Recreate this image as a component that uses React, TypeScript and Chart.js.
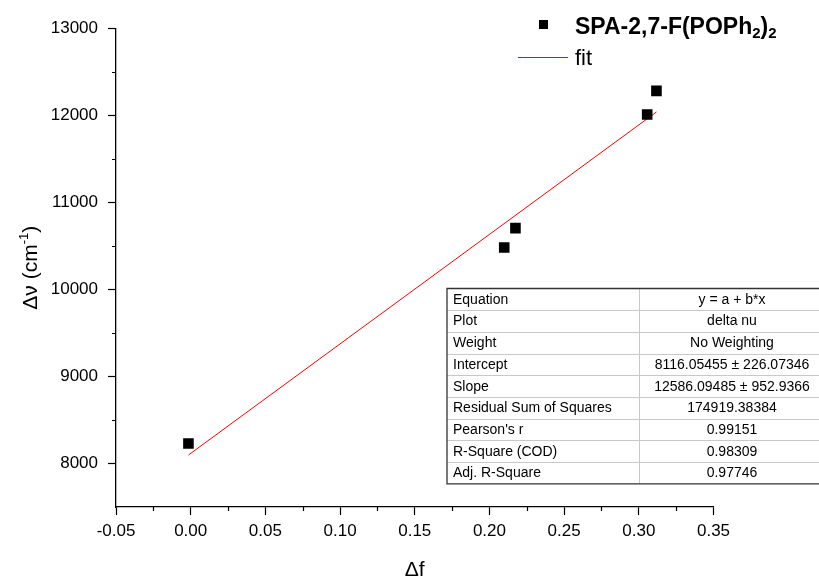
import React, { useEffect, useRef } from "react";
import { Chart, registerables } from "chart.js";

Chart.register(...registerables);

// Measured points: solvent polarity parameter Δf vs. Stokes shift Δν
const deltaF = [-0.0015, 0.2099, 0.2174, 0.3056, 0.3118];
const deltaNu = [8230, 10483, 10705, 12011, 12283];

// Linear fit y = a + b*x
const fitIntercept = 8116.05455;
const fitSlope = 12586.09485;

// Axis ranges and ticks
const xMin = -0.05;
const xMax = 0.35;
const xStep = 0.05;
const yMin = 7500;
const yMax = 13000;
const yStep = 500;

// Fit report table
const tableLabels = [
  "Equation",
  "Plot",
  "Weight",
  "Intercept",
  "Slope",
  "Residual Sum of Squares",
  "Pearson's r",
  "R-Square (COD)",
  "Adj. R-Square",
];
const tableValues = [
  "y = a + b*x",
  "delta nu",
  "No Weighting",
  "8116.05455 ± 226.07346",
  "12586.09485 ± 952.9366",
  "174919.38384",
  "0.99151",
  "0.98309",
  "0.97746",
];

const seriesName = "SPA-2,7-F(POPh₂)₂";
const fitName = "fit";

const FONT = "'Liberation Sans', Arial, sans-serif";

type Part = { text: string; size: number; dy: number; bold?: boolean };

function drawParts(ctx: CanvasRenderingContext2D, parts: Part[], x: number, y: number, align: "left" | "center") {
  let total = 0;
  for (const p of parts) {
    ctx.font = `${p.bold ? "bold " : ""}${p.size}px ${FONT}`;
    total += ctx.measureText(p.text).width;
  }
  let cx = align === "center" ? x - total / 2 : x;
  ctx.textAlign = "left";
  ctx.textBaseline = "alphabetic";
  for (const p of parts) {
    ctx.font = `${p.bold ? "bold " : ""}${p.size}px ${FONT}`;
    ctx.fillText(p.text, cx, y + p.dy);
    cx += ctx.measureText(p.text).width;
  }
}

const decorations = {
  id: "decorations",
  afterDraw(chart: any) {
    const ctx: CanvasRenderingContext2D = chart.ctx;
    const xs = chart.scales.x;
    const ys = chart.scales.y;
    const area = chart.chartArea;
    ctx.save();

    // minor ticks
    ctx.strokeStyle = "#000";
    ctx.lineWidth = 1.2;
    ctx.beginPath();
    for (let v = xMin + xStep / 2; v < xMax; v += xStep) {
      const px = Math.round(xs.getPixelForValue(v)) + 0.5;
      ctx.moveTo(px, area.bottom);
      ctx.lineTo(px, area.bottom + 4);
    }
    for (let v = yMin + yStep; v <= yMax; v += yStep) {
      if (v % 1000 === 0) continue;
      const py = Math.round(ys.getPixelForValue(v)) + 0.5;
      ctx.moveTo(area.left, py);
      ctx.lineTo(area.left - 4, py);
    }
    ctx.stroke();

    // axis titles
    ctx.fillStyle = "#000";
    drawParts(ctx, [{ text: "Δf", size: 21, dy: 0 }], (area.left + area.right) / 2, 576, "center");
    ctx.save();
    ctx.translate(37, (area.top + area.bottom) / 2);
    ctx.rotate(-Math.PI / 2);
    drawParts(
      ctx,
      [
        { text: "Δν (cm", size: 21, dy: 0 },
        { text: "-1", size: 13, dy: -9 },
        { text: ")", size: 21, dy: 0 },
      ],
      0,
      0,
      "center"
    );
    ctx.restore();

    // legend
    ctx.fillStyle = "#000";
    ctx.fillRect(539, 20, 9, 9);
    drawParts(
      ctx,
      [
        { text: "SPA-2,7-F(POPh", size: 23, dy: 0, bold: true },
        { text: "2", size: 15, dy: 4, bold: true },
        { text: ")", size: 23, dy: 0, bold: true },
        { text: "2", size: 15, dy: 4, bold: true },
      ],
      575,
      34,
      "left"
    );
    ctx.strokeStyle = "#ff0000";
    ctx.lineWidth = 1;
    ctx.beginPath();
    ctx.moveTo(518, 57.5);
    ctx.lineTo(568, 57.5);
    ctx.stroke();
    drawParts(ctx, [{ text: fitName, size: 22, dy: 0 }], 575, 65, "left");

    // fit report table
    const left = 447;
    const top = 288.5;
    const rowH = 21.7;
    const mid = 639.5;
    const right = 826;
    const bottom = top + rowH * tableLabels.length;
    ctx.fillStyle = "#fff";
    ctx.fillRect(left, top, right - left, bottom - top);
    ctx.strokeStyle = "#c8c8c8";
    ctx.lineWidth = 1;
    ctx.beginPath();
    for (let i = 1; i < tableLabels.length; i++) {
      const y = Math.round(top + i * rowH) + 0.5;
      ctx.moveTo(left, y);
      ctx.lineTo(right, y);
    }
    ctx.moveTo(mid, top);
    ctx.lineTo(mid, bottom);
    ctx.stroke();
    ctx.strokeStyle = "#333";
    ctx.lineWidth = 1.3;
    ctx.beginPath();
    ctx.moveTo(right, top);
    ctx.lineTo(left, top);
    ctx.lineTo(left, bottom);
    ctx.lineTo(right, bottom);
    ctx.stroke();
    ctx.fillStyle = "#000";
    ctx.font = `14px ${FONT}`;
    ctx.textBaseline = "middle";
    for (let i = 0; i < tableLabels.length; i++) {
      const cy = top + i * rowH + rowH / 2 + 0.5;
      ctx.textAlign = "left";
      ctx.fillText(tableLabels[i], 453, cy);
      ctx.textAlign = "center";
      ctx.fillText(tableValues[i], 732, cy);
    }
    ctx.restore();
  },
};

export default function App() {
  const ref = useRef<HTMLCanvasElement | null>(null);

  useEffect(() => {
    if (!ref.current) return;
    const fitX = [Math.min(...deltaF), Math.max(...deltaF)];
    const chart = new Chart(ref.current, {
      type: "scatter",
      data: {
        datasets: [
          {
            label: fitName,
            type: "line",
            data: fitX.map((x) => ({ x, y: fitIntercept + fitSlope * x })),
            borderColor: "#ff0000",
            borderWidth: 1,
            pointRadius: 0,
            fill: false,
            order: 2,
          },
          {
            label: seriesName,
            data: deltaF.map((x, i) => ({ x, y: deltaNu[i] })),
            pointStyle: "rect",
            pointRadius: 7.5,
            pointBorderWidth: 0,
            backgroundColor: "#000",
            borderColor: "#000",
            order: 1,
          },
        ],
      },
      options: {
        responsive: false,
        animation: false,
        devicePixelRatio: 1,
        layout: { padding: { top: 28.5, right: 105.5, left: 0, bottom: 0 } },
        plugins: { legend: { display: false }, tooltip: { enabled: false } },
        scales: {
          x: {
            type: "linear",
            min: xMin,
            max: xMax,
            afterFit: (s: any) => {
              s.height = 76;
            },
            ticks: {
              stepSize: xStep,
              color: "#000",
              font: { family: FONT, size: 17 },
              padding: 6,
              maxRotation: 0,
              callback: (v: any) => {
                const n = Math.round(Number(v) * 100) / 100;
                return (Object.is(n, -0) ? 0 : n).toFixed(2);
              },
            },
            grid: { drawOnChartArea: false, tickLength: 8, tickColor: "#000", tickWidth: 1.2 },
            border: { color: "#000", width: 1.3 },
          },
          y: {
            type: "linear",
            min: yMin,
            max: yMax,
            afterFit: (s: any) => {
              s.width = 116;
            },
            ticks: {
              stepSize: yStep,
              color: "#000",
              font: { family: FONT, size: 17 },
              padding: 10,
              callback: (v: any) => (Number(v) % 1000 === 0 ? String(v) : ""),
            },
            grid: {
              drawOnChartArea: false,
              tickLength: 8,
              tickWidth: 1.2,
              tickColor: (c: any) => (c.tick && c.tick.value % 1000 === 0 ? "#000" : "rgba(0,0,0,0)"),
            },
            border: { color: "#000", width: 1.3 },
          },
        },
      },
      plugins: [decorations],
    });
    return () => chart.destroy();
  }, []);

  return (
    <div style={{ position: "absolute", left: 0, top: 0, width: 819, height: 583, background: "#fff" }}>
      <canvas ref={ref} width={819} height={583} style={{ display: "block" }} />
    </div>
  );
}
